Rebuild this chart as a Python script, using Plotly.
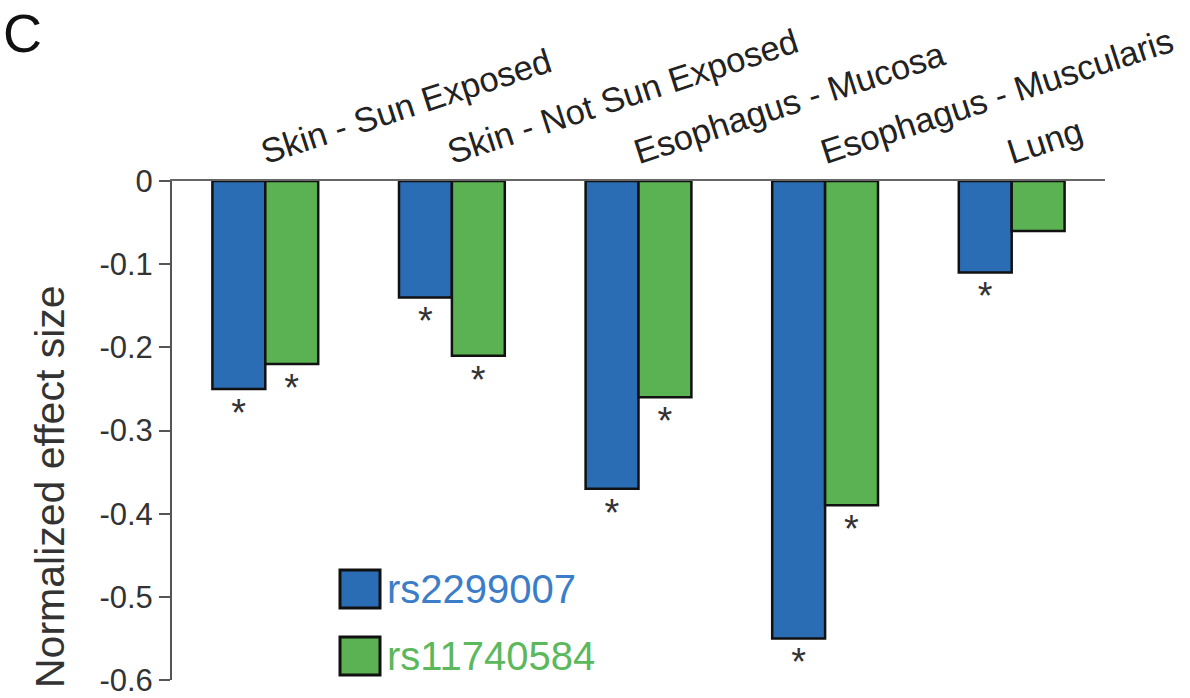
import plotly.graph_objects as go

categories = ["Skin - Sun Exposed", "Skin - Not Sun Exposed", "Esophagus - Mucosa",
              "Esophagus - Muscularis", "Lung"]
series_names = ["rs2299007", "rs11740584"]
rs2299007 = [-0.25, -0.14, -0.37, -0.55, -0.11]
rs11740584 = [-0.22, -0.21, -0.26, -0.39, -0.06]
sig_rs2299007 = [True, True, True, True, True]
sig_rs11740584 = [True, True, True, True, False]
ytick_vals = [0, -0.1, -0.2, -0.3, -0.4, -0.5, -0.6]
ytick_text = ["0", "-0.1", "-0.2", "-0.3", "-0.4", "-0.5", "-0.6"]

bar_colors = ["#2a6db5", "#5ab252"]
text_colors = ["#3b7dc8", "#5cb85c"]
FONT = "Liberation Sans, Arial, sans-serif"

L, R, T, B = 172, 85, 181, 18
PW, PH = 1190 - L - R, 698 - T - B
BOT = 698 - B  # pixel row of the plot bottom

fig = go.Figure()
for name, vals, sig, col in [(series_names[0], rs2299007, sig_rs2299007, bar_colors[0]),
                             (series_names[1], rs11740584, sig_rs11740584, bar_colors[1])]:
    fig.add_trace(go.Bar(
        x=categories, y=vals, name=name,
        marker=dict(color=col, line=dict(color="#111111", width=2.5)),
        text=["*" if s else "" for s in sig],
        textposition="outside",
        textfont=dict(size=38, color="#333333", family=FONT),
        cliponaxis=False,
        showlegend=False,
    ))

fig.update_layout(
    width=1190, height=698,
    margin=dict(l=L, r=R, t=T, b=B, autoexpand=False),
    paper_bgcolor="white", plot_bgcolor="white",
    barmode="group", bargap=0.433, bargroupgap=0,
    font=dict(family=FONT, color="#222222"),
    xaxis=dict(
        side="top", showline=True, linecolor="#666666", linewidth=2,
        ticks="", showgrid=False, zeroline=False, automargin=False,
        tickangle=-18, tickfont=dict(size=34.5, color="#222222"),
        ticklabelshift=-5,
        range=[-0.5, 4.5],
    ),
    yaxis=dict(
        range=[-0.6, 0], showline=True, linecolor="#555555", linewidth=2,
        ticks="outside", ticklen=11, tickwidth=2, tickcolor="#555555",
        showgrid=False, zeroline=False, automargin=False,
        ticklabeloverflow="allow",
        tickvals=ytick_vals, ticktext=ytick_text,
        tickfont=dict(size=31, color="#333333"),
    ),
)

# y-axis title
fig.add_annotation(xref="paper", yref="paper", x=(50 - L) / PW, y=(BOT - 487) / PH,
                   xanchor="center", yanchor="middle", showarrow=False, textangle=-90,
                   text="Normalized effect size",
                   font=dict(size=41, color="#333333", family=FONT))

# custom legend
legend_cy = [589, 656]
for i, name in enumerate(series_names):
    yc = (BOT - legend_cy[i]) / PH
    fig.add_shape(type="rect", xref="paper", yref="paper",
                  x0=(340 - L) / PW, x1=(380 - L) / PW,
                  y0=yc - 19 / PH, y1=yc + 19 / PH,
                  fillcolor=bar_colors[i], line=dict(color="#111111", width=3))
    fig.add_annotation(xref="paper", yref="paper", x=(385 - L) / PW, y=yc,
                       xanchor="left", yanchor="middle", showarrow=False,
                       text=name, font=dict(size=40, color=text_colors[i], family=FONT))

fig.add_annotation(xref="paper", yref="paper", x=(2 - L) / PW, y=1 + (T - 2) / PH,
                   xanchor="left", yanchor="top", showarrow=False, text="C",
                   borderpad=0,
                   font=dict(size=54, color="#111111", family=FONT))

fig.write_html("out.html")
